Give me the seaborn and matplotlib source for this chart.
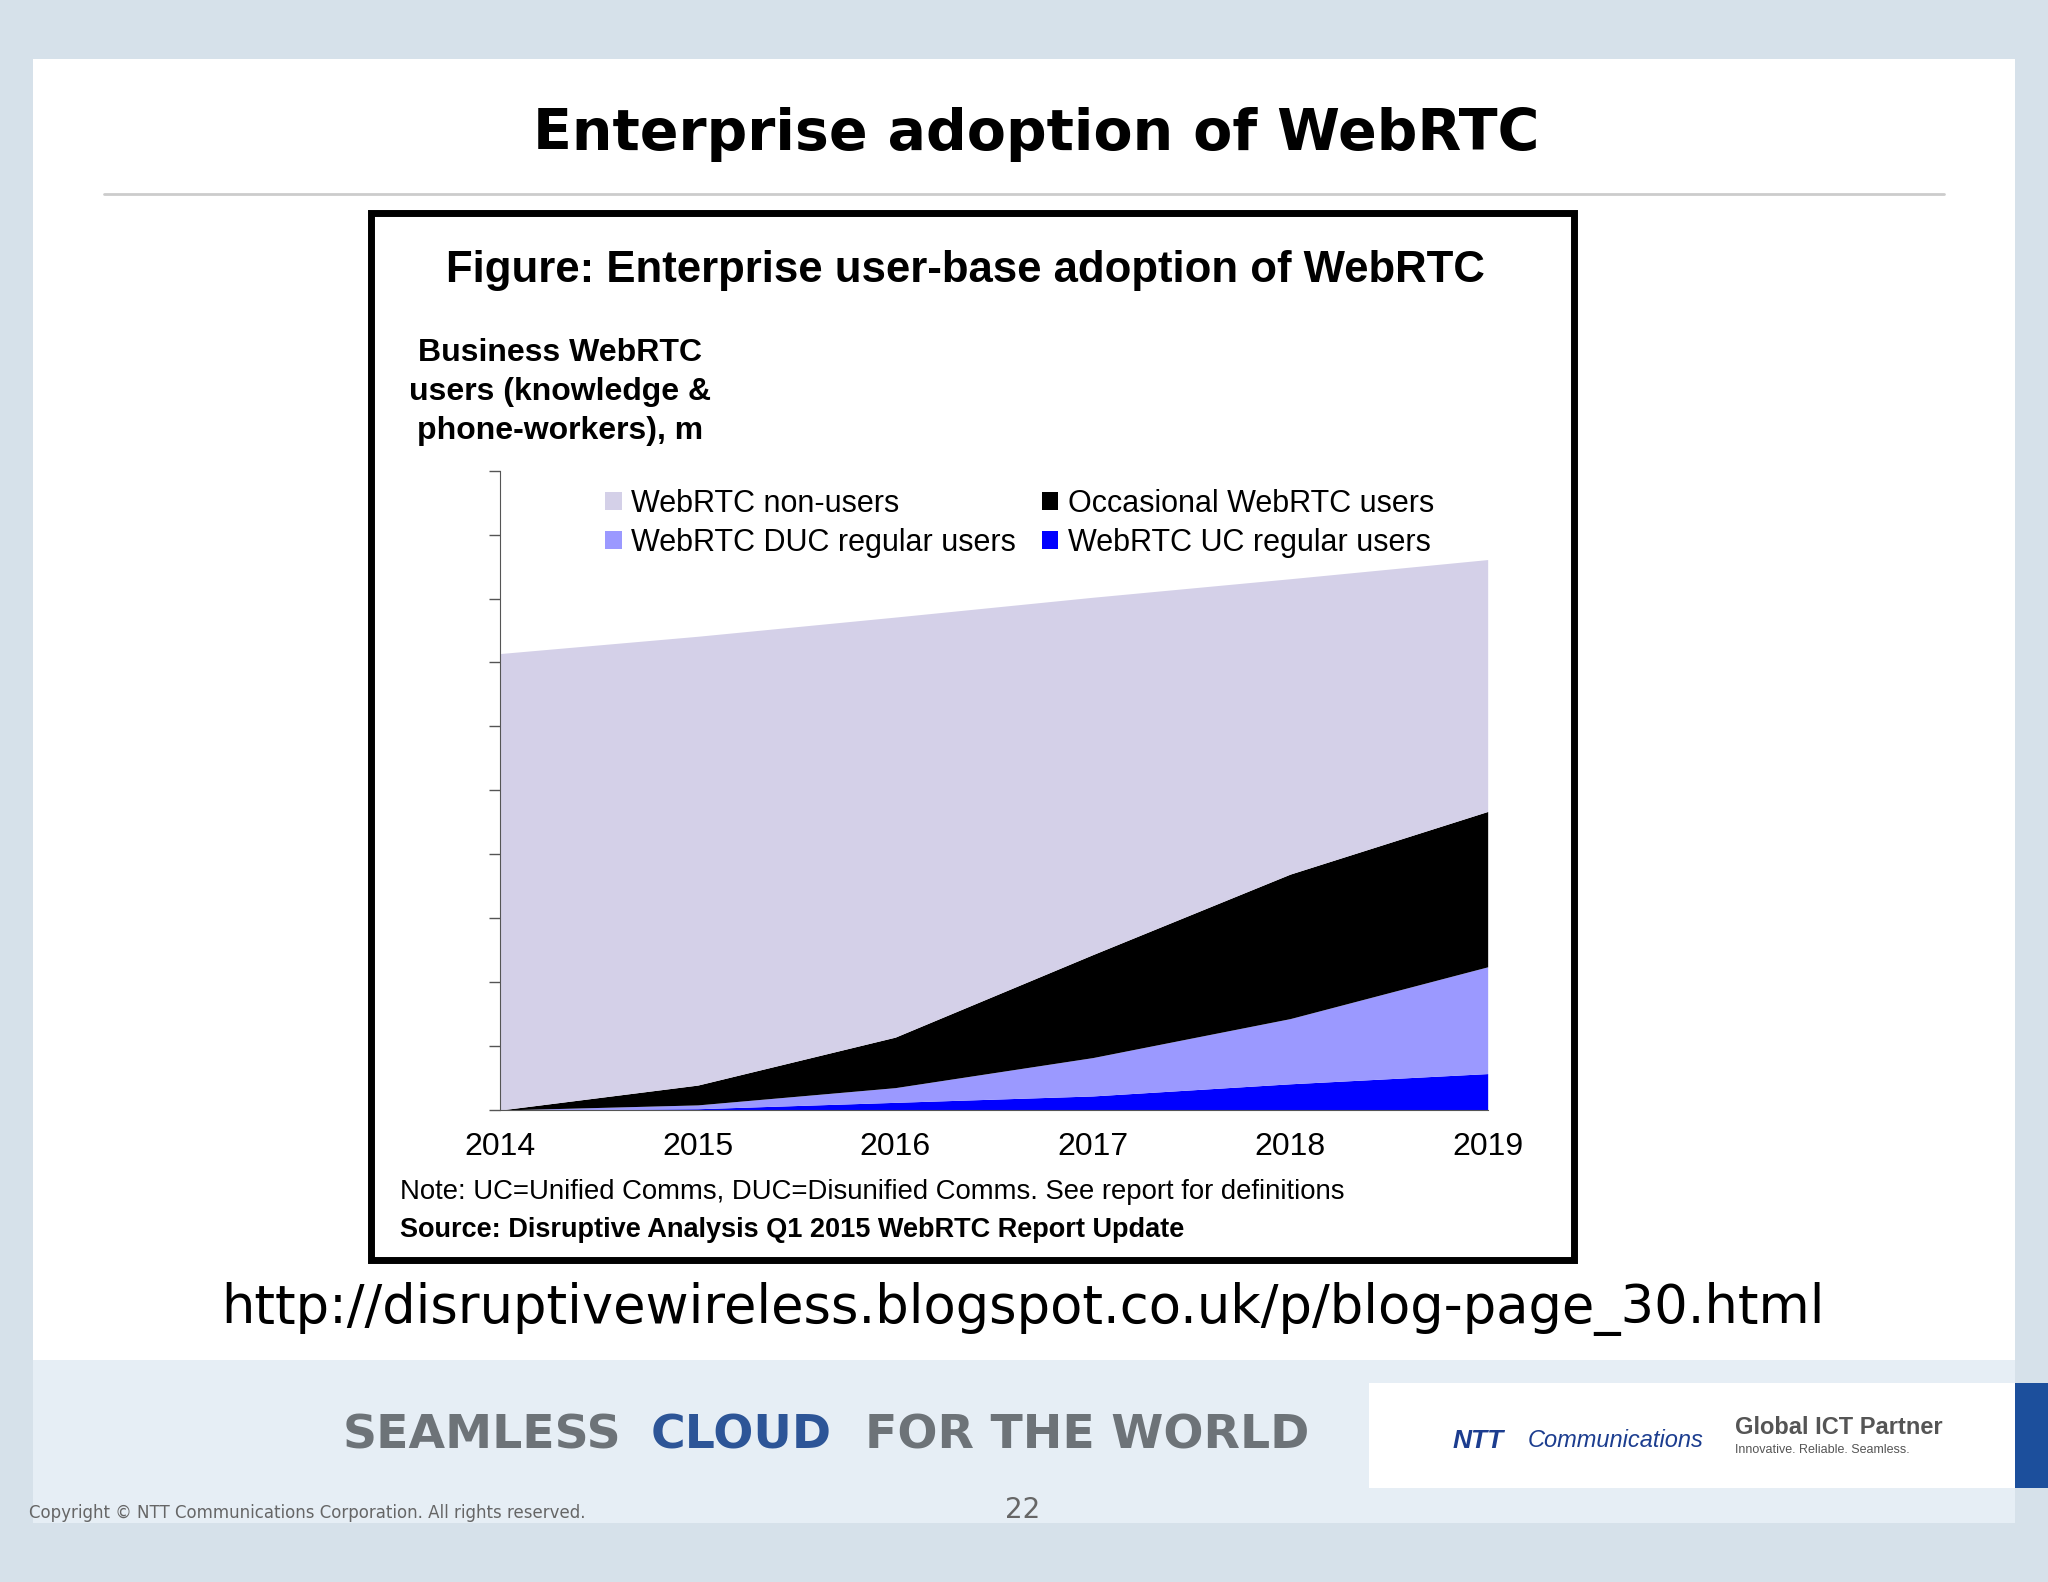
import matplotlib
matplotlib.use("Agg")
import matplotlib.pyplot as plt
import seaborn as sns
from matplotlib.patches import Rectangle

years = [2014, 2015, 2016, 2017, 2018, 2019]
uc_regular = [0, 2, 12, 22, 41, 57]
duc_regular = [0, 6, 23, 60, 102, 167]
occasional = [0, 31, 79, 161, 226, 243]
non_users = [714, 702, 657, 559, 462, 394]
series_labels = ["WebRTC UC regular users", "WebRTC DUC regular users",
                 "Occasional WebRTC users", "WebRTC non-users"]
colors = ["#0000ff", "#9b99ff", "#000000", "#d4d0e8"]

sns.set_style("white")
plt.rcParams['font.family'] = ['Liberation Sans', 'DejaVu Sans']
plt.rcParams['text.color'] = 'black'
plt.rcParams['xtick.color'] = 'black'

W, H = 2048, 1582
fig = plt.figure(figsize=(W/100, H/100), dpi=100)
fig.patch.set_facecolor("#d6e1ea")
def fx(x): return x/1568
def fy(y): return 1 - y/1210

fig.add_artist(Rectangle((fx(25), fy(1045)), fx(1543)-fx(25), fy(45)-fy(1045),
                         transform=fig.transFigure, facecolor="white", edgecolor="none", zorder=0))
fig.add_artist(Rectangle((fx(25), fy(1165)), fx(1543)-fx(25), fy(1040)-fy(1165),
                         transform=fig.transFigure, facecolor="#e6eef5", edgecolor="none", zorder=0))
fig.add_artist(Rectangle((fx(1048), fy(1138)), fx(1543)-fx(1048), fy(1058)-fy(1138),
                         transform=fig.transFigure, facecolor="white", edgecolor="none", zorder=1))
fig.add_artist(Rectangle((fx(1543), fy(1138)), fx(1568)-fx(1543), fy(1058)-fy(1138),
                         transform=fig.transFigure, facecolor="#1c4f9c", edgecolor="none", zorder=1))
fig.text(fx(262), fy(1098), "SEAMLESS", fontsize=34, fontweight="bold", color="#6d7378",
         va="center", family=["DejaVu Sans"])
fig.text(fx(498), fy(1098), "CLOUD", fontsize=34, fontweight="bold", color="#2d5597",
         va="center", family=["DejaVu Sans"])
fig.text(fx(662), fy(1098), "FOR THE WORLD", fontsize=34, fontweight="bold", color="#6d7378",
         va="center", family=["DejaVu Sans"])
fig.text(fx(1112), fy(1102), "NTT", fontsize=19, fontweight="bold", style="italic", color="#1c3d8f", va="center")
fig.text(fx(1170), fy(1102), "Communications", fontsize=17, style="italic", color="#1c3d8f", va="center")
fig.text(fx(1328), fy(1092), "Global ICT Partner", fontsize=17, fontweight="bold", color="#555", va="center")
fig.text(fx(1328), fy(1109), "Innovative. Reliable. Seamless.", fontsize=9, color="#555", va="center")
fig.text(fx(22), fy(1157), "Copyright © NTT Communications Corporation. All rights reserved.",
         fontsize=12, color="#666", va="center", family=["DejaVu Sans"])
fig.text(fx(783), fy(1155), "22", fontsize=20, color="#666", va="center", ha="center", family=["DejaVu Sans"])

fig.text(fx(793), fy(103), "Enterprise adoption of WebRTC", fontsize=41, fontweight="bold",
         ha="center", va="center", family=["DejaVu Sans"])
fig.add_artist(plt.Line2D([fx(80), fx(1488)], [fy(148), fy(148)], transform=fig.transFigure,
                          color="#cccccc", lw=2))
fig.text(fx(783), fy(1001), "http://disruptivewireless.blogspot.co.uk/p/blog-page_30.html",
         fontsize=38, ha="center", va="center", family=["DejaVu Sans"])

fig.add_artist(Rectangle((fx(284), fy(964)), fx(1205)-fx(284), fy(163)-fy(964),
                         transform=fig.transFigure, facecolor="white", edgecolor="black", lw=5, zorder=1))
fig.text(fx(739), fy(207), "Figure: Enterprise user-base adoption of WebRTC", fontsize=31.5,
         fontweight="bold", ha="center", va="center", zorder=3)
fig.text(fx(429), fy(300), "Business WebRTC\nusers (knowledge &\nphone-workers), m", fontsize=23,
         fontweight="bold", ha="center", va="center", linespacing=1.38, zorder=3)
fig.text(fx(306), fy(912), "Note: UC=Unified Comms, DUC=Disunified Comms. See report for definitions",
         fontsize=19.8, va="center", zorder=3)
fig.text(fx(306), fy(941), "Source: Disruptive Analysis Q1 2015 WebRTC Report Update",
         fontsize=19.5, fontweight="bold", va="center", zorder=3)

ax = fig.add_axes([fx(383), fy(849), fx(1139)-fx(383), fy(360)-fy(849)], zorder=2)
ax.set_facecolor("none")
polys = ax.stackplot(years, uc_regular, duc_regular, occasional, non_users,
                     colors=colors, labels=series_labels, lw=0)
ax.set_xlim(2014, 2019)
ax.set_ylim(0, 1000)
ax.set_xticks(years)
ax.set_xticklabels([str(y) for y in years], fontsize=23)
ax.set_yticks(range(0, 1001, 100))
ax.set_yticklabels([])
ax.tick_params(axis="y", direction="out", length=8, width=1, color="#555", left=True)
ax.tick_params(axis="x", length=0, pad=16)
for s in ["top", "right"]:
    ax.spines[s].set_visible(False)
ax.spines["left"].set_color("#555")
ax.spines["bottom"].set_color("#555")

handles = [polys[3], polys[1], polys[2], polys[0]]
labels = [series_labels[3], series_labels[1], series_labels[2], series_labels[0]]
ax.legend(handles, labels, ncol=2, frameon=False, fontsize=22, loc="upper left",
          bbox_to_anchor=(0.078, 1.015), handlelength=0.55, handleheight=0.55,
          columnspacing=0.85, handletextpad=0.3, labelspacing=0.3)

fig.savefig("out.png", dpi=100, facecolor=fig.get_facecolor())
